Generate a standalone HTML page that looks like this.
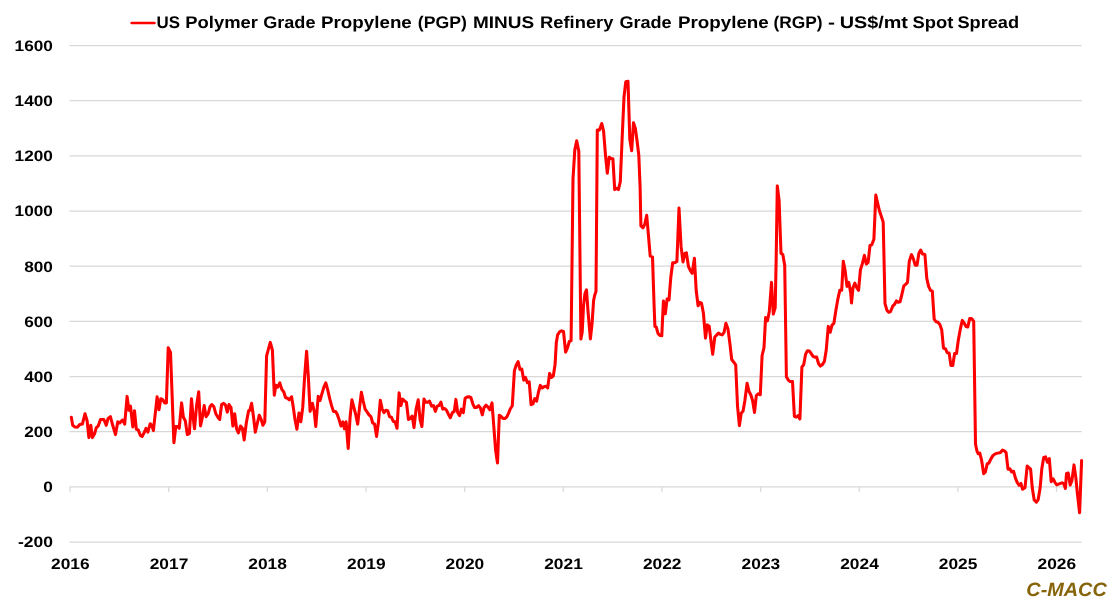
<!DOCTYPE html>
<html lang="en"><head><meta charset="utf-8"><title>US PGP minus RGP Spot Spread</title>
<style>html,body{margin:0;padding:0;background:#fff;}body{width:1116px;height:605px;overflow:hidden;}svg{display:block;}text{font-family:"Liberation Sans",sans-serif;font-weight:bold;text-rendering:geometricPrecision;}</style></head><body>
<svg width="1116" height="605" viewBox="0 0 1116 605">
<rect width="1116" height="605" fill="#ffffff"/>
<g stroke="#d8d8d8" stroke-width="1.25" fill="none">
<line x1="69.5" y1="45.50" x2="1081.7" y2="45.50"/>
<line x1="69.5" y1="100.67" x2="1081.7" y2="100.67"/>
<line x1="69.5" y1="155.85" x2="1081.7" y2="155.85"/>
<line x1="69.5" y1="211.02" x2="1081.7" y2="211.02"/>
<line x1="69.5" y1="266.20" x2="1081.7" y2="266.20"/>
<line x1="69.5" y1="321.38" x2="1081.7" y2="321.38"/>
<line x1="69.5" y1="376.55" x2="1081.7" y2="376.55"/>
<line x1="69.5" y1="431.72" x2="1081.7" y2="431.72"/>
<line x1="69.5" y1="486.90" x2="1081.7" y2="486.90"/>
<line x1="69.5" y1="542.08" x2="1081.7" y2="542.08"/>
<line x1="70.0" y1="486.9" x2="70.0" y2="491.9"/>
<line x1="168.7" y1="486.9" x2="168.7" y2="491.9"/>
<line x1="267.3" y1="486.9" x2="267.3" y2="491.9"/>
<line x1="366.0" y1="486.9" x2="366.0" y2="491.9"/>
<line x1="464.6" y1="486.9" x2="464.6" y2="491.9"/>
<line x1="563.2" y1="486.9" x2="563.2" y2="491.9"/>
<line x1="661.9" y1="486.9" x2="661.9" y2="491.9"/>
<line x1="760.6" y1="486.9" x2="760.6" y2="491.9"/>
<line x1="859.2" y1="486.9" x2="859.2" y2="491.9"/>
<line x1="957.9" y1="486.9" x2="957.9" y2="491.9"/>
<line x1="1056.5" y1="486.9" x2="1056.5" y2="491.9"/>
</g>
<g font-size="15.2" fill="#000" text-anchor="end">
<text x="52.9" y="50.85" textLength="38.3" lengthAdjust="spacingAndGlyphs">1600</text>
<text x="52.9" y="106.02" textLength="38.3" lengthAdjust="spacingAndGlyphs">1400</text>
<text x="52.9" y="161.20" textLength="38.3" lengthAdjust="spacingAndGlyphs">1200</text>
<text x="52.9" y="216.37" textLength="38.3" lengthAdjust="spacingAndGlyphs">1000</text>
<text x="52.9" y="271.55" textLength="28.7" lengthAdjust="spacingAndGlyphs">800</text>
<text x="52.9" y="326.73" textLength="28.7" lengthAdjust="spacingAndGlyphs">600</text>
<text x="52.9" y="381.90" textLength="28.7" lengthAdjust="spacingAndGlyphs">400</text>
<text x="52.9" y="437.07" textLength="28.7" lengthAdjust="spacingAndGlyphs">200</text>
<text x="52.9" y="492.25" textLength="9.6" lengthAdjust="spacingAndGlyphs">0</text>
<text x="52.9" y="547.43" textLength="35.0" lengthAdjust="spacingAndGlyphs">-200</text>
</g>
<g font-size="15.2" fill="#000" text-anchor="middle">
<text x="70.3" y="568.9" textLength="38.6" lengthAdjust="spacingAndGlyphs">2016</text>
<text x="169.0" y="568.9" textLength="38.6" lengthAdjust="spacingAndGlyphs">2017</text>
<text x="267.6" y="568.9" textLength="38.6" lengthAdjust="spacingAndGlyphs">2018</text>
<text x="366.3" y="568.9" textLength="38.6" lengthAdjust="spacingAndGlyphs">2019</text>
<text x="464.9" y="568.9" textLength="38.6" lengthAdjust="spacingAndGlyphs">2020</text>
<text x="563.5" y="568.9" textLength="38.6" lengthAdjust="spacingAndGlyphs">2021</text>
<text x="662.2" y="568.9" textLength="38.6" lengthAdjust="spacingAndGlyphs">2022</text>
<text x="760.9" y="568.9" textLength="38.6" lengthAdjust="spacingAndGlyphs">2023</text>
<text x="859.5" y="568.9" textLength="38.6" lengthAdjust="spacingAndGlyphs">2024</text>
<text x="958.1" y="568.9" textLength="38.6" lengthAdjust="spacingAndGlyphs">2025</text>
<text x="1056.8" y="568.9" textLength="38.6" lengthAdjust="spacingAndGlyphs">2026</text>
</g>
<line x1="131.7" y1="23.0" x2="154.4" y2="23.0" stroke="#ff0000" stroke-width="2.7" stroke-linecap="round"/>
<text y="28.2" font-size="16.9" fill="#000" xml:space="preserve">
<tspan x="156.50" textLength="23.50" lengthAdjust="spacingAndGlyphs">US</tspan> 
<tspan x="185.30" textLength="72.70" lengthAdjust="spacingAndGlyphs">Polymer</tspan> 
<tspan x="263.20" textLength="52.30" lengthAdjust="spacingAndGlyphs">Grade</tspan> 
<tspan x="321.00" textLength="90.80" lengthAdjust="spacingAndGlyphs">Propylene</tspan> 
<tspan x="417.80" textLength="49.10" lengthAdjust="spacingAndGlyphs">(PGP)</tspan> 
<tspan x="472.90" textLength="61.20" lengthAdjust="spacingAndGlyphs">MINUS</tspan> 
<tspan x="540.10" textLength="73.30" lengthAdjust="spacingAndGlyphs">Refinery</tspan> 
<tspan x="619.40" textLength="52.30" lengthAdjust="spacingAndGlyphs">Grade</tspan> 
<tspan x="677.90" textLength="90.90" lengthAdjust="spacingAndGlyphs">Propylene</tspan> 
<tspan x="773.40" textLength="49.10" lengthAdjust="spacingAndGlyphs">(RGP)</tspan> 
<tspan x="828.10" textLength="7.00" lengthAdjust="spacingAndGlyphs">-</tspan> 
<tspan x="839.70" textLength="68.30" lengthAdjust="spacingAndGlyphs">US$/mt</tspan> 
<tspan x="912.60" textLength="40.80" lengthAdjust="spacingAndGlyphs">Spot</tspan> 
<tspan x="957.40" textLength="61.70" lengthAdjust="spacingAndGlyphs">Spread</tspan>
</text>
<text x="1026.3" y="596.0" font-size="19.2" font-style="italic" fill="#86650a" textLength="80.5" lengthAdjust="spacingAndGlyphs">C-MACC</text>
<polyline fill="none" stroke="#ff0000" stroke-width="3.05" stroke-linejoin="round" stroke-linecap="round" points="71.3,417.2 72.7,425.3 75.0,426.9 77.3,427.2 79.7,424.6 82.4,424.1 85.0,413.7 87.1,420.7 88.9,437.6 90.8,425.3 92.4,437.6 94.7,433.4 96.3,427.6 98.2,426.0 100.5,419.5 103.9,419.5 106.2,425.3 108.1,418.4 110.4,416.7 112.7,425.3 115.5,434.6 117.8,421.8 119.7,423.0 122.4,420.0 124.7,424.1 127.1,396.4 128.9,410.3 130.5,406.1 132.8,426.9 134.5,410.7 136.3,429.2 138.2,429.9 140.5,435.7 142.1,436.4 144.4,432.2 146.0,428.3 147.9,432.2 150.2,423.7 151.8,425.3 153.4,430.6 157.1,396.8 159.0,409.8 160.8,398.7 162.9,399.8 164.5,402.9 166.4,402.9 168.2,347.8 170.5,352.4 173.9,442.7 175.8,426.5 177.6,426.5 179.2,428.3 181.6,402.9 183.4,417.2 185.3,420.7 187.3,434.6 189.4,433.4 191.5,398.7 193.1,417.2 194.5,428.8 196.6,405.6 198.7,391.7 200.5,426.0 202.4,417.2 204.2,405.6 206.1,416.7 208.2,413.7 210.0,406.8 211.8,404.5 213.9,406.8 215.8,413.7 217.9,417.2 219.7,419.5 221.6,404.5 223.6,403.3 225.5,405.2 227.3,412.1 229.0,404.5 231.0,407.5 232.9,426.0 234.7,413.7 236.6,428.8 238.4,432.9 240.5,426.0 242.4,428.3 244.2,439.9 246.3,423.0 248.6,410.7 249.8,410.3 251.6,403.3 253.5,416.7 255.3,432.2 257.4,423.0 259.2,415.3 261.1,419.1 262.9,425.3 264.8,421.8 266.6,355.9 268.5,348.9 270.3,342.4 272.4,350.1 274.3,395.2 275.9,385.3 277.7,387.1 279.8,382.9 281.8,389.4 283.7,391.7 285.5,397.5 287.4,398.2 289.2,399.8 291.6,396.8 293.2,406.8 295.0,419.5 296.9,429.2 299.0,413.0 300.8,421.8 302.7,407.9 304.7,375.5 306.6,351.2 308.4,377.9 310.1,411.4 312.4,403.3 314.2,411.4 315.8,426.5 318.2,396.4 320.0,400.5 321.8,394.1 323.9,387.1 325.8,382.9 327.6,389.4 329.7,398.7 331.6,405.6 333.4,411.4 335.5,411.4 337.3,414.4 339.2,420.0 341.0,426.0 342.9,421.8 344.5,428.8 346.1,421.8 348.2,448.4 350.1,417.2 351.9,399.8 354.0,407.9 355.8,414.9 357.7,424.1 359.5,407.9 361.4,392.2 363.2,401.0 365.1,409.1 367.2,412.1 369.0,414.9 370.9,416.7 372.7,423.0 374.6,424.1 376.6,436.4 378.5,421.8 380.3,400.3 382.2,409.1 384.0,412.6 385.9,410.3 387.7,410.7 389.6,416.7 391.4,417.2 393.3,421.4 395.1,421.8 397.0,428.3 399.1,392.9 400.9,405.6 402.7,399.1 404.6,401.0 406.4,402.2 408.5,419.5 410.3,418.4 412.2,416.0 414.0,427.6 416.1,409.1 418.2,399.8 420.1,419.5 421.9,426.5 424.0,399.1 425.8,402.2 427.7,402.2 429.5,401.0 431.6,406.1 433.5,405.6 435.3,411.4 437.2,406.1 439.0,405.6 440.9,402.2 442.7,409.1 444.8,408.6 446.6,410.3 448.5,414.4 450.3,417.7 452.4,412.6 454.3,411.4 455.9,399.4 457.7,412.6 459.6,415.6 461.4,409.1 463.3,412.6 465.1,398.2 467.0,397.1 468.8,396.8 470.9,397.5 472.8,403.8 474.6,407.5 476.5,407.5 478.6,405.6 480.4,407.9 482.3,414.9 484.1,407.5 486.0,405.2 487.8,406.8 489.9,409.8 492.0,402.9 493.8,426.4 495.6,450.2 497.5,462.9 499.3,415.3 501.2,416.6 503.0,418.4 504.9,418.4 506.7,417.1 508.6,413.1 510.4,408.7 512.3,405.7 514.4,370.8 516.3,365.0 518.1,361.6 520.0,369.5 521.8,369.0 523.7,380.1 525.5,377.4 527.4,382.7 529.2,381.9 531.1,404.7 532.9,403.9 534.8,398.6 536.6,401.2 538.5,392.0 540.3,385.4 542.2,388.0 544.0,386.7 545.9,386.2 547.7,388.0 549.6,373.5 551.4,377.4 553.3,376.1 555.1,364.2 556.3,342.8 557.6,334.9 559.8,331.7 561.6,330.9 563.5,331.4 565.6,352.1 567.4,348.1 569.3,341.5 571.1,340.7 573.0,179.0 574.8,149.9 576.7,140.7 578.8,151.2 580.9,338.9 582.2,332.2 583.5,305.8 584.9,293.9 586.5,289.9 588.0,311.1 590.4,338.9 592.0,324.3 593.6,300.5 594.7,295.2 596.0,291.2 597.3,130.1 599.4,130.1 601.8,123.5 603.6,131.4 605.5,155.2 607.3,173.2 609.2,157.3 611.0,158.4 612.9,158.7 614.7,189.6 616.6,188.3 618.4,189.6 620.3,181.7 622.1,139.3 624.0,97.0 625.8,81.7 628.0,81.2 629.8,139.3 631.7,150.7 633.5,122.7 635.4,128.8 637.2,142.0 638.8,155.2 640.1,187.0 640.9,225.9 643.0,227.8 644.9,223.8 646.7,215.3 648.6,237.0 650.2,256.1 652.5,256.9 654.1,305.8 654.9,326.4 656.2,327.0 658.1,333.6 659.9,335.4 661.8,335.7 663.4,301.1 665.3,313.8 667.1,299.0 669.0,299.8 670.8,277.3 672.7,262.7 674.8,262.7 676.9,261.4 679.0,208.0 681.1,246.9 683.0,261.9 684.8,253.5 686.4,252.9 688.5,266.7 690.4,270.7 692.2,273.3 694.4,258.2 696.2,290.5 698.1,305.8 699.7,302.4 701.5,303.2 703.4,313.0 705.5,338.1 707.3,324.9 709.2,326.2 710.8,339.7 712.7,354.2 714.8,337.0 716.7,334.9 718.5,333.1 720.4,334.4 722.2,334.9 724.1,332.3 725.9,323.3 728.0,329.1 729.9,343.6 731.7,359.5 733.8,362.2 735.7,364.8 737.5,405.8 739.4,425.6 741.2,413.2 743.1,411.1 744.9,400.5 747.1,383.3 748.9,391.2 750.8,394.7 752.6,400.5 754.5,412.4 756.3,395.7 758.2,393.9 760.3,394.7 762.1,355.5 764.0,347.6 765.6,317.6 767.5,320.8 769.3,311.5 771.5,282.4 773.3,314.1 775.2,307.5 776.2,257.3 777.3,185.9 779.1,200.4 781.0,253.3 782.8,254.6 784.7,265.2 786.4,376.7 788.3,380.1 790.1,381.5 792.5,381.5 794.4,416.4 796.2,417.2 798.1,415.6 799.9,419.0 801.9,366.9 803.7,364.8 805.6,354.2 807.4,350.8 809.3,351.0 811.1,353.4 813.0,356.3 814.8,357.1 816.7,357.1 818.5,363.5 820.4,366.1 822.2,364.8 824.4,361.4 826.2,350.3 828.3,326.4 830.2,332.3 832.0,325.1 833.9,323.3 836.1,308.9 838.0,298.3 839.8,290.3 841.7,290.3 843.3,261.2 845.1,270.5 847.0,286.4 848.8,282.4 850.7,293.0 851.5,303.0 853.0,287.7 854.9,283.2 856.7,287.7 858.6,290.3 860.4,270.0 862.3,263.9 864.4,255.4 866.3,263.9 868.1,262.6 870.0,245.4 871.8,244.8 873.9,239.3 875.8,195.1 877.6,203.1 879.5,211.0 881.3,216.3 883.2,222.1 885.0,303.6 886.9,310.2 888.7,312.3 890.6,311.5 892.7,306.2 894.5,304.4 896.4,300.9 898.2,302.2 900.1,301.7 901.9,294.3 903.8,285.8 905.6,284.3 907.5,282.4 909.3,261.2 911.5,254.6 913.3,258.6 915.2,265.2 917.0,265.2 918.9,253.3 920.7,250.1 922.6,254.1 924.9,254.6 926.8,278.4 928.6,286.4 930.5,290.3 932.3,291.1 934.2,319.4 936.1,321.7 938.0,322.3 939.8,324.4 941.7,329.7 943.5,348.2 945.4,348.7 947.2,352.7 949.1,352.9 950.9,365.4 952.8,365.4 954.6,353.5 956.5,353.5 958.3,340.3 960.2,329.7 962.3,320.4 964.1,323.1 966.0,326.5 967.8,327.0 969.7,318.6 971.5,318.6 973.7,321.2 975.5,444.0 976.8,450.5 978.1,453.7 979.8,453.1 981.6,460.2 983.7,473.7 985.4,472.0 987.2,463.8 988.9,463.0 990.8,459.1 992.7,455.9 994.7,454.1 996.6,453.3 998.5,453.1 1000.5,452.6 1002.6,450.1 1004.4,450.9 1006.1,452.6 1008.0,469.2 1009.9,468.8 1011.7,472.0 1013.6,471.3 1015.5,478.4 1017.3,482.7 1019.2,485.3 1020.9,483.4 1022.6,489.2 1025.0,487.7 1027.2,466.0 1028.9,467.7 1030.6,469.2 1032.3,488.1 1034.2,499.9 1036.4,502.1 1038.1,499.9 1040.1,488.1 1041.8,468.8 1043.7,457.4 1045.6,456.9 1047.4,462.3 1049.3,458.7 1051.2,481.7 1053.2,478.9 1054.9,482.3 1056.8,484.9 1058.5,484.2 1060.5,483.4 1062.2,482.9 1063.7,483.8 1065.4,488.5 1066.5,473.5 1068.2,473.1 1070.2,484.9 1071.9,480.6 1074.0,464.9 1075.8,477.4 1077.5,494.5 1079.6,512.8 1081.6,460.6"/>
</svg></body></html>
